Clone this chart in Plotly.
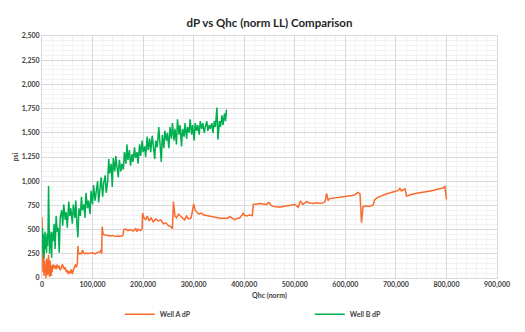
import plotly.graph_objects as go

# Well B dP (green)  x in thousands of Qhc(norm), y in psi
well_b_x = [0,1,2,3,4,5,6,7,8,9,10,11,12,13,14,15,16,17,18,19,
            20,22,24,26,28,30,32,34,36,39,41,43,46,48,50,53,55,57,60,62,65,67,69,71,73,76,78,80,83,85,
            87,90,92,95,97,100,102,105,107,110,112,115,117,120,122,125,127,130,132,134,137,139,141,144,146,148,
            151,153,156,158,161,163,166,168,170,173,175,178,180,183,185,188,190,193,195,198,200,203,205,208,
            210,213,215,218,220,223,225,228,231,233,236,238,241,243,246,248,251,253,256,258,261,263,266,268,
            271,273,276,278,281,283,286,288,291,293,296,298,301,303,306,308,311,313,316,318,321,323,326,328,
            331,333,336,338,341,343,346,348,351,353,356,358,361,363,365]
well_b_y = [300,520,250,450,200,380,480,300,420,260,460,330,500,950,520,250,440,300,480,210,
            470,380,560,300,640,480,520,260,620,700,540,760,600,680,520,790,640,720,560,760,620,800,560,420,720,640,840,700,760,620,
            880,720,800,660,900,760,960,800,880,1000,780,920,1040,840,980,1060,880,1000,1230,1080,1180,940,1240,1100,1260,1160,
            1040,1220,1100,1180,1120,1300,1180,1380,1220,1320,1160,1280,1200,1350,1240,1300,1180,1380,1260,1420,1300,1360,1250,1460,
            1320,1440,1300,1470,1380,1230,1420,1350,1560,1400,1200,1480,1340,1520,1420,1500,1340,1560,1440,1600,1420,1540,1380,1640,
            1480,1580,1360,1540,1460,1600,1440,1560,1500,1640,1480,1580,1420,1600,1520,1580,1480,1620,1540,1600,1500,1560,1620,1520,
            1580,1540,1600,1500,1620,1560,1760,1430,1620,1560,1680,1580,1700,1620,1740]

# Well A dP (orange)
well_a_x = [0,1,2,3,4,5,6,7,8,9,10,11,12,13,14,15,16,17,18,19,20,22,24,26,28,30,32,34,36,38,
            40,42,44,46,48,50,52,54,56,58,60,62,64,66,68,70,71,72,74,76,78,80,82,84,86,88,90,95,100,105,
            110,115,117,118,119,121,125,130,135,140,145,150,155,160,162,165,170,175,180,185,188,190,195,198,
            199,202,205,208,212,216,220,225,230,235,240,245,250,255,258,260,263,266,270,274,278,282,286,290,295,
            300,303,306,310,315,320,325,330,335,340,345,350,355,360,365,372,381,385,391,398,400,405,410,416,
            418,425,431,438,444,449,453,457,464,470,477,484,492,500,504,507,511,516,520,523,530,537,543,550,556,
            560,563,566,569,575,582,589,596,603,610,617,625,629,632,635,641,648,655,658,663,669,675,682,689,695,701,
            705,708,711,714,718,721,728,734,741,748,754,761,767,774,780,787,793,797,800]
well_a_y = [630,150,60,250,20,180,60,120,0,200,80,30,150,240,60,10,180,100,20,130,60,140,100,130,90,140,110,120,80,100,
            140,120,90,110,60,80,40,70,50,90,40,80,120,140,110,150,330,260,250,255,250,290,260,250,255,260,250,255,260,250,
            265,270,290,250,530,450,445,440,435,440,430,435,430,440,500,505,490,500,485,510,480,505,490,510,
            670,620,600,640,590,620,580,610,590,600,560,570,540,530,510,790,640,620,660,640,620,600,640,610,620,
            765,700,680,660,670,650,645,640,635,630,625,620,615,620,615,633,600,615,620,668,650,640,650,644,
            761,765,770,765,760,781,750,740,735,730,738,745,750,760,745,730,795,760,775,788,775,770,778,772,776,
            790,875,800,820,825,830,835,840,845,850,855,885,870,571,737,745,740,754,806,830,845,860,870,880,888,895,
            905,926,900,910,920,847,860,868,875,880,885,890,900,905,915,920,930,944,813]

thousand = 1000
fig = go.Figure()
fig.add_trace(go.Scatter(x=[v * thousand for v in well_a_x], y=well_a_y, mode="lines",
                         name="Well A dP", line=dict(color="#F96B2C", width=1.5)))
fig.add_trace(go.Scatter(x=[v * thousand for v in well_b_x], y=well_b_y, mode="lines",
                         name="Well B dP", line=dict(color="#00B050", width=1.5)))

FAM = "Lato, Open Sans, sans-serif"
tick_font = dict(family=FAM, size=7, color="#404040", weight=700)
fig.update_layout(
    width=525, height=332,
    margin=dict(l=42, r=28, t=36, b=54, autoexpand=False),
    paper_bgcolor="white", plot_bgcolor="white",
    title=dict(text="dP vs Qhc (norm LL) Comparison", x=0.5, xanchor="center",
               xref="paper", y=1 - 23 / 332, yanchor="middle",
               font=dict(family=FAM, size=11.5, color="#262626", weight="bold")),
    font=dict(family=FAM, color="#404040"),
    showlegend=True,
    legend=dict(orientation="h", x=0.171, xanchor="left", y=-0.15, yanchor="middle",
                entrywidth=145, entrywidthmode="pixels", itemwidth=30,
                font=dict(family=FAM, size=7, color="#404040", weight=700)),
)
fig.update_xaxes(range=[0, 900000], dtick=100000, tickformat=",d",
                 showgrid=True, gridcolor="#D9D9D9", gridwidth=1,
                 minor=dict(dtick=20000, showgrid=True, gridcolor="#F2F2F2"),
                 zeroline=False, showline=True, linecolor="#D9D9D9", mirror=True,
                 ticks="", tickfont=tick_font, automargin=False,
                 title=dict(text="Qhc (norm)", standoff=4,
                            font=dict(family=FAM, size=7, color="#404040", weight=700)))
fig.update_yaxes(range=[0, 2500], dtick=250, tickformat=",d",
                 showgrid=True, gridcolor="#D9D9D9", gridwidth=1,
                 minor=dict(dtick=50, showgrid=True, gridcolor="#F2F2F2"),
                 zeroline=False, showline=True, linecolor="#D9D9D9", mirror=True,
                 ticks="", tickfont=tick_font, automargin=False,
                 title=dict(text="psi", standoff=2,
                            font=dict(family=FAM, size=7, color="#404040", weight=700)))
fig.write_html("out.html")
